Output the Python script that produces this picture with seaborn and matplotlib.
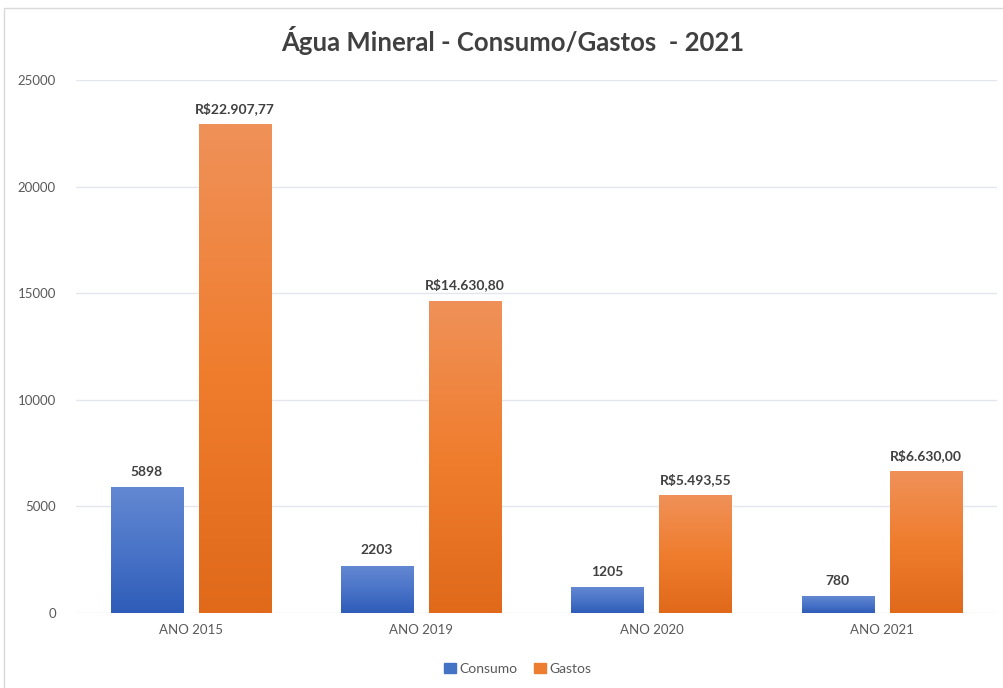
import matplotlib.pyplot as plt
import matplotlib.patches as mpatches
from matplotlib.colors import LinearSegmentedColormap
import numpy as np
import pandas as pd
import seaborn as sns

anos = ['ANO 2015', 'ANO 2019', 'ANO 2020', 'ANO 2021']
consumo = [5898, 2203, 1205, 780]
gastos = [22907.77, 14630.80, 5493.55, 6630.00]
series = ['Consumo', 'Gastos']
yticks = [0, 5000, 10000, 15000, 20000, 25000]

df = pd.DataFrame({
    'ano': anos * 2,
    'valor': consumo + gastos,
    'serie': ['Consumo'] * len(anos) + ['Gastos'] * len(anos),
})

def brl(v):
    s = f'{v:,.2f}'.replace(',', 'X').replace('.', ',').replace('X', '.')
    return 'R$' + s

sns.set_style('white')
plt.rcParams['font.family'] = ['Lato', 'DejaVu Sans']

fig = plt.figure(figsize=(10.04, 6.88), dpi=100)
ax = fig.add_axes([0.0752, 0.109, 0.918, 0.7747])

cores = {'Consumo': '#4472C4', 'Gastos': '#ED7D31'}
sns.barplot(data=df, x='ano', y='valor', hue='serie', palette=cores,
            width=0.765, gap=0.18, ax=ax, legend=False, saturation=1, zorder=2)

# gradiente nas barras (claro em cima, escuro embaixo)
grads = {
    'Consumo': LinearSegmentedColormap.from_list('b', ['#2e5cb8', '#4a74c8', '#6388d2']),
    'Gastos': LinearSegmentedColormap.from_list('o', ['#e0691a', '#f07d2e', '#ef9159']),
}
vals = {'Consumo': consumo, 'Gastos': gastos}
grad = np.linspace(0, 1, 256).reshape(-1, 1)
for container, serie in zip(ax.containers, series):
    for bar, v in zip(container, vals[serie]):
        x0, y0 = bar.get_x(), bar.get_y()
        w, h = bar.get_width(), bar.get_height()
        ax.imshow(grad, extent=(x0, x0 + w, y0, y0 + h), origin='lower',
                  cmap=grads[serie], aspect='auto', zorder=2.5)
        txt = str(int(v)) if serie == 'Consumo' else brl(v)
        ax.annotate(txt, (x0 + w / 2, y0 + h), xytext=(0, 7),
                    textcoords='offset points', ha='center', va='bottom',
                    fontsize=10, fontweight='bold', color='#404040')

ax.set_xlim(-0.5, len(anos) - 0.5)
ax.set_ylim(0, 25000)
ax.set_yticks(yticks)
ax.set_yticklabels([str(t) for t in yticks])
ax.tick_params(axis='both', length=0, labelsize=9.5, labelcolor='#595959')
ax.tick_params(axis='y', pad=14)
ax.tick_params(axis='x', pad=8)
ax.grid(axis='y', color='#e3e6ec', linewidth=1, zorder=0)
ax.set_axisbelow(True)
sns.despine(ax=ax, left=True, bottom=True)
ax.set_xlabel('')
ax.set_ylabel('')

fig.suptitle('Água Mineral - Consumo/Gastos  - 2021', x=0.511, y=0.962,
             fontsize=18.5, fontweight='bold', color='#404040')

handles = [mpatches.Patch(color=cores[s], label=s) for s in series]
fig.legend(handles=handles, loc='center', bbox_to_anchor=(0.516, 0.028), ncol=2,
           frameon=False, fontsize=10, handlelength=0.8, handleheight=0.8,
           handletextpad=0.3, columnspacing=1.2, labelcolor='#595959')

# borda da área do gráfico
fig.add_artist(mpatches.Rectangle((0.004, -0.01), 1.0, 0.998, transform=fig.transFigure,
                                  fill=False, edgecolor='#d9d9d9', linewidth=1))

fig.savefig('out.png', dpi=100)
